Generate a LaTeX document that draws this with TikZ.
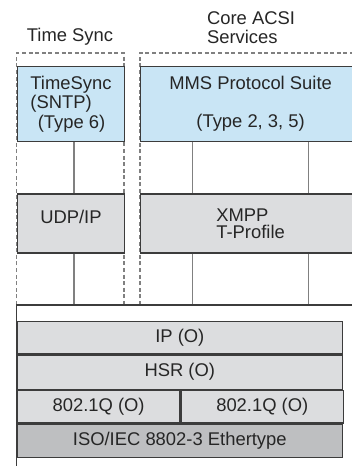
\documentclass[tikz,border=0pt]{standalone}
\usepackage{fontspec}
\setmainfont{Liberation Sans}
\definecolor{syncblue}{HTML}{C9E5F5}
\definecolor{layergray}{HTML}{DCDDDF}
\definecolor{ethergray}{HTML}{BEBFC1}
\definecolor{edgegray}{HTML}{3C3C3C}
\definecolor{tickgray}{HTML}{808080}

\begin{document}
\begin{tikzpicture}[x=0.5pt,y=-0.5pt,
  font=\fontsize{9.2}{9.8}\selectfont,
  layer/.style={draw=edgegray,line width=0.6pt,anchor=north west,inner sep=0pt,
    align=center,text=black!85},
  frame/.style={dashed,dash pattern=on 2pt off 1.3pt,color=tickgray,line width=0.6pt},
  tick/.style={color=tickgray,line width=0.6pt}]

    \useasboundingbox (0,0) rectangle (352,466);
    \clip (0,0) rectangle (352,466);

    % column headings
    \node[text=black!85] (tslabel) at (70,36.7) {Time Sync};
    \node[text=black!85,anchor=west,align=left] (acsilabel) at (200,27.5) {Core ACSI\\Services};

    % dashed groups
    \draw[frame] (16.7,305) -- (16.7,53) -- (124,53) -- (124,305);
    \draw[frame] (140,305) -- (140,53) -- (360,53);

    \coordinate (base) at (16.7,305);
    \coordinate (c1) at (74,0);
    \coordinate (c2) at (192.7,0);
    \coordinate (c3) at (308.3,0);

    % upper boxes
    \node[layer,fill=syncblue,minimum width=53.65pt,minimum height=37.65pt,align=left] (ts) at (16.7,65.7)
        {TimeSync\\(SNTP)\\\hspace*{3.7pt}(Type 6)};
    \node[layer,fill=syncblue,minimum width=110pt,minimum height=37.65pt] (mms) at (140,65.7)
        {MMS Protocol Suite\\[9.2pt](Type 2, 3, 5)};
    \node[layer,fill=layergray,minimum width=53.65pt,minimum height=29.5pt] (udp) at (16.7,193.3)
        {UDP/IP\\[-3pt]\mbox{}};
    \node[layer,fill=layergray,minimum width=110pt,minimum height=29.5pt,align=left] (xmpp) at (140,193.3)
        {XMPP\\[-1.2pt]T-Profile};

    % links between the rows
    \draw[tick] (ts.south -| c1) -- (udp.north -| c1);
    \draw[tick] (mms.south -| c2) -- (xmpp.north -| c2);
    \draw[tick] (mms.south -| c3) -- (xmpp.north -| c3);
    \draw[tick] (udp.south -| c1) -- (base -| c1);
    \draw[tick] (xmpp.south -| c2) -- (base -| c2);
    \draw[tick] (xmpp.south -| c3) -- (base -| c3);

    \draw[line width=0.6pt,color=edgegray] (16.7,470) -- (base) -- (360,305);

    % lower stack
    \node[layer,fill=layergray,minimum width=162.5pt,minimum height=16.3pt] (ip) at (16.7,320.7) {IP (O)};
    \node[layer,fill=layergray,minimum width=162.5pt,minimum height=17pt] (hsr) at (ip.south west) {HSR (O)};
    \node[layer,fill=layergray,minimum width=81.3pt,minimum height=16.35pt] (vlana) at (hsr.south west) {802.1Q (O)};
    \node[layer,fill=layergray,minimum width=81.2pt,minimum height=16.35pt] (vlanb) at (vlana.north east) {802.1Q (O)};
    \node[layer,fill=ethergray,minimum width=162.5pt,minimum height=16.65pt] (ether) at (vlana.south west) {ISO/IEC 8802-3 Ethertype};
\end{tikzpicture}
\end{document}
